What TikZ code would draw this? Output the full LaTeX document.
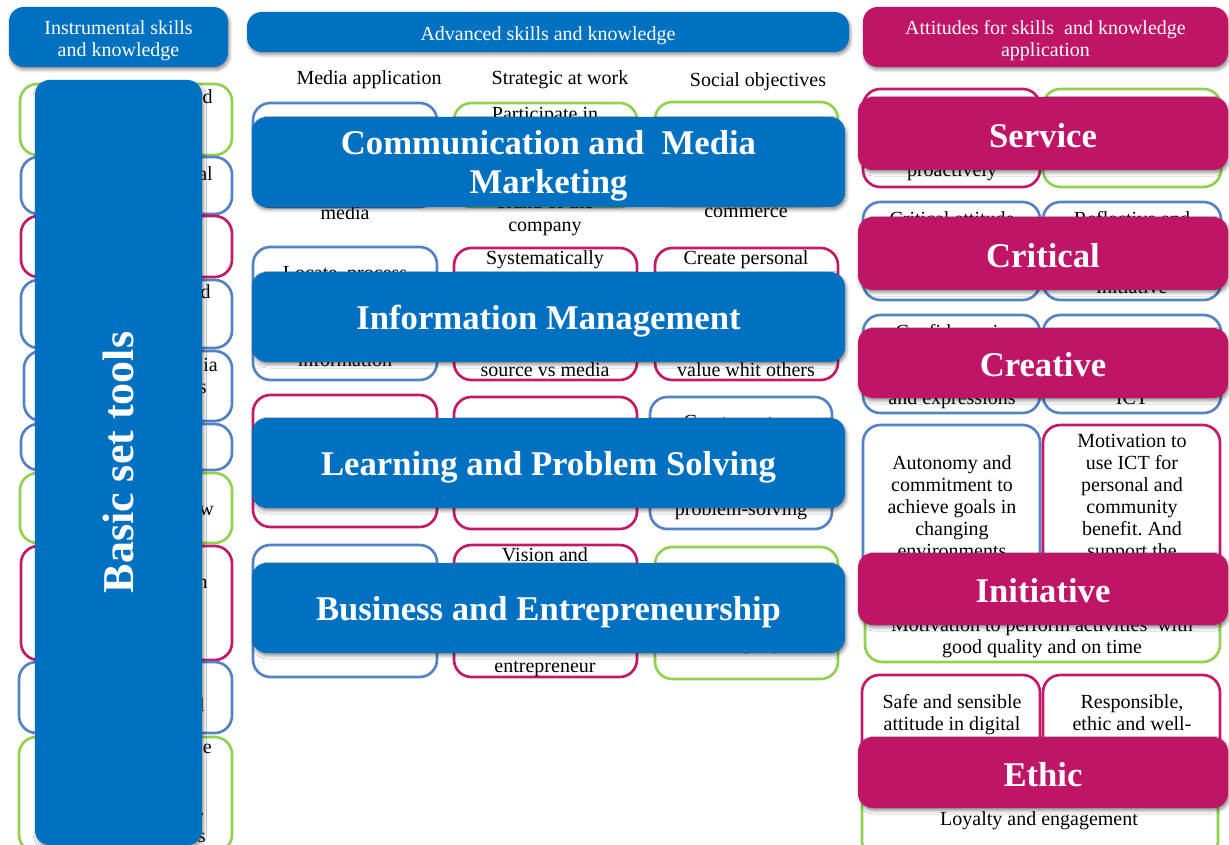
\documentclass[tikz,border=0pt]{standalone}
\usepackage{fontspec}
\setmainfont{Liberation Serif}
\usetikzlibrary{fit,shadows.blur}

\definecolor{barblue}{RGB}{0,112,192}
\definecolor{barmag}{RGB}{192,20,102}
\definecolor{lineblue}{RGB}{84,130,196}
\definecolor{linegreen}{RGB}{146,208,80}
\definecolor{linemag}{RGB}{196,24,106}

\tikzset{
  cell/.style={draw=#1, line width=2pt, rounded corners=13pt, fill=white, inner sep=0pt},
  bar/.style={fill=#1, rounded corners=11pt, inner sep=0pt,
    blur shadow={shadow xshift=1pt, shadow yshift=-2pt, shadow blur radius=2.5pt, shadow opacity=45}},
  % multi-line texts sit on the baseline of their last line
  body/.style={font=\fontsize{15}{16.5}\selectfont, inner sep=0pt, anchor=base, align=center},
  frag/.style={body, anchor=base east},
  head/.style={text=white, font=\fontsize{15}{16.5}\selectfont, align=center, inner sep=0pt, yshift=-3pt},
  title/.style={text=white, font=\fontsize{26}{29}\selectfont\bfseries, align=center, inner sep=0pt, yshift=-3pt},
  mtitle/.style={title, yshift=1.5pt},
}

% a framed cell spanning the corners (x1,y1)-(x2,y2)
\newcommand\cellat[6]{\node[cell=#6, fit={(#2,#3) (#4,#5)}] (#1) {};}
% a filled banner spanning the corners (x1,y1)-(x2,y2)
\newcommand\barat[6]{\node[bar=#6, fit={(#2,#3) (#4,#5)}] (#1) {};}

\begin{document}
\begin{tikzpicture}[x=0.75pt, y=-0.75pt]
\useasboundingbox (0,0) rectangle (1229,845);

% ---------- column headers ----------
\barat{hInstr}{9}{7}{228}{67}{barblue}
\node[head] (hInstrT) at (hInstr.center) {Instrumental skills\\and knowledge};
\barat{hAdv}{247}{12}{849}{52}{barblue}
\node[head] (hAdvT) at (hAdv.center) {Advanced skills and knowledge};
\barat{hAtt}{863}{7}{1228}{67}{barmag}
\node[head] (hAttT) at (hAtt.center) {Attitudes for skills\ \ and knowledge\\application};

\node[body] (subMedia) at (369,85) {Media application};
\node[body] (subStrat) at (560,85) {Strategic at work};
\node[body] (subSoc)   at (758,87) {Social objectives};

% ---------- instrumental column ----------
\cellat{i1}{20}{84}{232}{155}{linegreen}
\cellat{i2}{21}{157}{232}{214}{lineblue}
\cellat{i3}{21}{216}{232}{277}{linemag}
\cellat{i4}{21}{280}{232}{348}{lineblue}
\cellat{i5}{24}{351}{232}{421}{lineblue}
\cellat{i6}{21}{424}{232}{470}{lineblue}
\cellat{i7}{20}{473}{232}{543}{linegreen}
\cellat{i8}{21}{546}{232}{660}{linemag}
\cellat{i9}{19}{662}{232}{733}{lineblue}
\cellat{i10}{19}{737}{232}{852}{linegreen}

\node[frag] (i1a)  at (213,104) {d};
\node[frag] (i2a)  at (213,181) {al};
\node[frag] (i4a)  at (211,298) {d};
\node[frag] (i5a)  at (218,371) {ia};
\node[frag] (i5b)  at (207,393) {s};
\node[frag] (i7a)  at (214,515) {w};
\node[frag] (i8a)  at (208,588) {n};
\node[frag] (i9a)  at (205,711) {l};
\node[frag] (i10a) at (212,753) {e};
\node[frag] (i10b) at (205,815) {.};
\node[frag] (i10c) at (206,842) {s};

\barat{basic}{35}{80}{202}{845}{barblue}
\node[title, yshift=3pt, rotate=90, font=\fontsize{33}{36}\selectfont\bfseries] (basicT) at (basic.center) {Basic set tools};

% ---------- advanced skills grid ----------
\cellat{a11}{253}{103}{437}{207}{lineblue}
\cellat{a12}{454}{103}{637}{207}{linegreen}
\cellat{a13}{655}{102}{838}{206}{linegreen}
\cellat{a21}{253}{247}{437}{380}{lineblue}
\cellat{a22}{454}{248}{637}{380}{linemag}
\cellat{a23}{655}{248}{838}{380}{linemag}
\cellat{a31}{253}{395}{437}{527}{linemag}
\cellat{a32}{454}{397}{637}{529}{linemag}
\cellat{a33}{650}{397}{832}{529}{lineblue}
\cellat{a41}{253}{545}{437}{677}{lineblue}
\cellat{a42}{454}{545}{637}{677}{linemag}
\cellat{a43}{655}{547}{838}{679}{linegreen}

\node[body] (a11b) at (345,220) {media};
\node[body] (a12a) at (545,121) {Participate in};
\node[body] (a12b) at (545,209) {brand of the};
\node[body] (a12c) at (545,232) {company};
\node[body] (a13b) at (746,218) {commerce};
\node[body] (a21a) at (345,280) {Locate, process};
\node[body] (a21b) at (345,366) {information};
\node[body] (a22a) at (545,265) {Systematically};
\node[body] (a22b) at (545,376) {source vs media};
\node[body] (a23a) at (746,265) {Create personal};
\node[body] (a23b) at (746,376) {value whit others};
\node[body] (a33a) at (741,428) {Create custom};
\node[body] (a33b) at (741,515) {problem-solving};
\node[body] (a42a) at (545,561) {Vision and};
\node[body] (a42b) at (545,672) {entrepreneur};
\node[body] (a43b) at (746,649) {company};

\barat{bComm}{252}{117}{845}{207}{barblue}
\node[title] (bCommT) at (bComm.center) {Communication and\ \ Media\\Marketing};
\barat{bInfo}{252}{272}{845}{362}{barblue}
\node[title] (bInfoT) at (bInfo.center) {Information Management};
\barat{bLearn}{252}{418}{845}{508}{barblue}
\node[title] (bLearnT) at (bLearn.center) {Learning and Problem Solving};
\barat{bBus}{252}{563}{845}{653}{barblue}
\node[title] (bBusT) at (bBus.center) {Business and Entrepreneurship};

% ---------- attitudes column ----------
\cellat{t11}{863}{89}{1040}{187}{linemag}
\cellat{t12}{1043}{89}{1221}{187}{linegreen}
\cellat{t21}{863}{202}{1040}{300}{lineblue}
\cellat{t22}{1043}{202}{1221}{300}{lineblue}
\cellat{t31}{863}{315}{1040}{413}{lineblue}
\cellat{t32}{1043}{315}{1221}{413}{lineblue}
\cellat{t4w}{865}{595}{1220}{662}{linegreen}
\cellat{t41}{863}{425}{1040}{600}{lineblue}
\cellat{t42}{1043}{425}{1220}{600}{linemag}
\cellat{t5w}{862}{790}{1218}{858}{linegreen}
\cellat{t51}{862}{675}{1040}{780}{linemag}
\cellat{t52}{1043}{675}{1220}{780}{linemag}

\node[body] (t11b) at (952,177) {proactively};
\node[body] (t21a) at (952,226) {Critical attitude};
\node[body] (t22a) at (1132,226) {Reflective and};
\node[body] (t22b) at (1132,293) {initiative};
\node[body] (t31a) at (952,339) {Confidence in};
\node[body] (t31b) at (952,404) {and expressions};
\node[body] (t32b) at (1132,404) {ICT};
\node[body] (t41a) at (952,557) {Autonomy and\\commitment to\\achieve goals in\\changing\\environments};
\node[body] (t42a) at (1132,557) {Motivation to\\use ICT for\\personal and\\community\\benefit.\ And\\support the};
\node[body] (t4wa) at (1042,653) {Motivation to perform activities\ \ with\\good quality and on time};
\node[body] (t51a) at (952,730) {Safe and sensible\\attitude in digital};
\node[body] (t52a) at (1132,730) {Responsible,\\ethic and well-};
\node[body] (t5wa) at (1039,825) {Loyalty and engagement};

\barat{bServ}{858}{97}{1228}{170}{barmag}
\node[mtitle] (bServT) at (bServ.center) {Service};
\barat{bCrit}{858}{217}{1228}{290}{barmag}
\node[mtitle] (bCritT) at (bCrit.center) {Critical};
\barat{bCrea}{858}{328}{1228}{398}{barmag}
\node[mtitle] (bCreaT) at (bCrea.center) {Creative};
\barat{bInit}{858}{553}{1228}{625}{barmag}
\node[mtitle] (bInitT) at (bInit.center) {Initiative};
\barat{bEth}{858}{737}{1228}{808}{barmag}
\node[mtitle] (bEthT) at (bEth.center) {Ethic};

\end{tikzpicture}
\end{document}
